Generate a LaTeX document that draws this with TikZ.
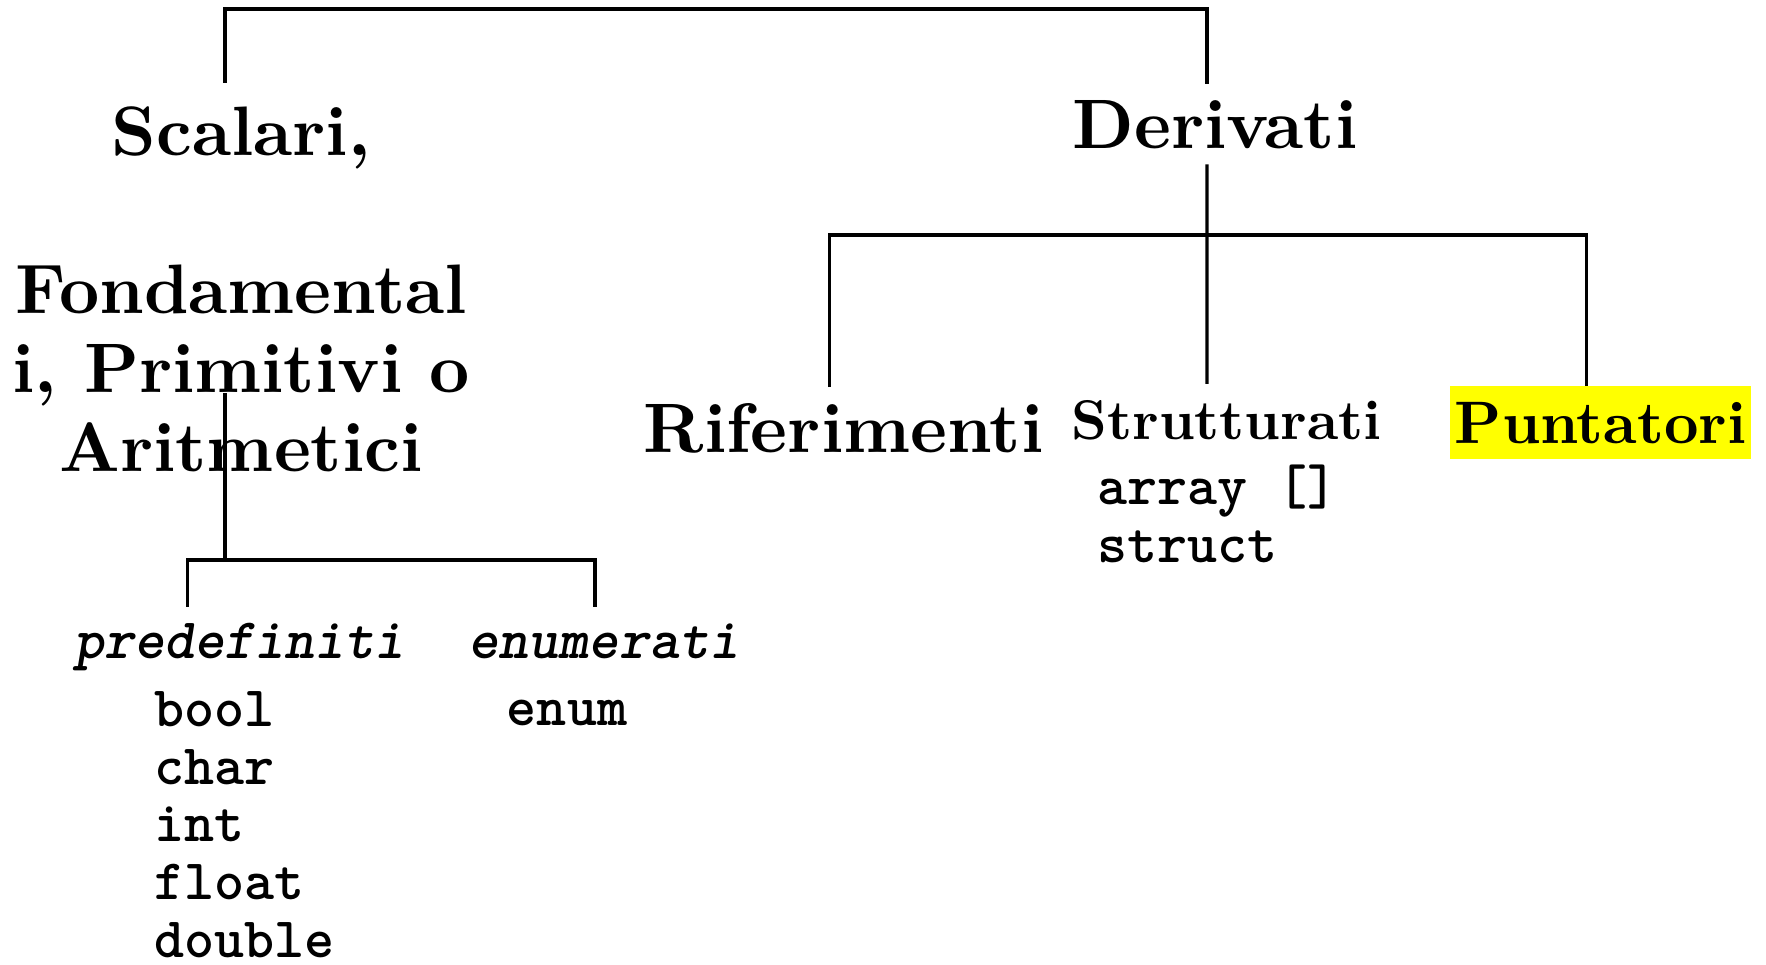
\documentclass[tikz,border=0pt]{standalone}
\usepackage{fontspec}
\newfontfamily\grassetto{lmroman10-bold.otf}
\newfontfamily\codicefont{lmmonolt10-bold.otf}[ItalicFont=lmmonolt10-boldoblique.otf]
\definecolor{evidenzia}{RGB}{255,255,0}
\begin{document}
\begin{tikzpicture}[x=0.25pt,y=-0.25pt,
                tipo/.style={inner sep=0pt,outer sep=4pt,anchor=base,font=\fontsize{17.5}{19.75}\selectfont\grassetto},
                sottotipo/.style={tipo,font=\fontsize{14}{16}\selectfont\grassetto},
                codice/.style={inner sep=0pt,outer sep=4pt,font=\fontsize{14.3}{14.4}\selectfont\codicefont},
                categoria/.style={codice,anchor=base,font=\fontsize{14.3}{14.4}\selectfont\codicefont\itshape},
                ramo/.style={line width=0.8pt}]
                \useasboundingbox (0,0) rectangle (1766,964);

                \node[tipo,align=center,outer sep=5.85pt] (scal) at (241,471) {Scalari,\\[19.75pt]Fondamental\\i, Primitivi o\\Aritmetici};
                \node[tipo] (deriv) at (1215,148) {Derivati};
                \node[tipo] (rif) at (843.5,452) {Riferimenti};
                \node[sottotipo] (strut) at (1226.5,439) {Strutturati};
                \node[tipo,font=\fontsize{15}{18}\selectfont\grassetto,fill=evidenzia,inner xsep=1.25pt,inner ysep=4pt,outer sep=0pt] (punt) at (1600.5,443) {Puntatori};
                \node[codice,anchor=base west,align=left] (strutlist) at (1081,562) {array []\\struct};

                \node[categoria] (predef) at (239.5,658) {predefiniti};
                \node[categoria] (enumr) at (604,658) {enumerati};
                \node[codice,anchor=base west,align=left] (predlist) at (138,957) {bool\\char\\int\\float\\double};
                \node[codice,anchor=base] (enumlist) at (567,725) {enum};

                \coordinate (cima) at (716,9);
                \coordinate (dbarra) at (1207,235);
                \coordinate (sbarra) at (225,560);

                \draw[ramo] ([xshift=-4pt]scal.north) |- (cima) -| ([xshift=-2pt]deriv.north);
                \draw[ramo] ([xshift=-2pt]deriv.south) -- ([xshift=-4.9pt]strut.north);
                \draw[ramo] ([xshift=-3.6pt]rif.north) |- (dbarra) -| ([xshift=-3.6pt]punt.north);
                \draw[ramo] ([xshift=-4pt,yshift=25.35pt]scal.south) -- (sbarra);
                \draw[ramo] ([xshift=-13.1pt]predef.north) |- (sbarra) -| ([xshift=-2.25pt]enumr.north);
            \end{tikzpicture}
\end{document}
